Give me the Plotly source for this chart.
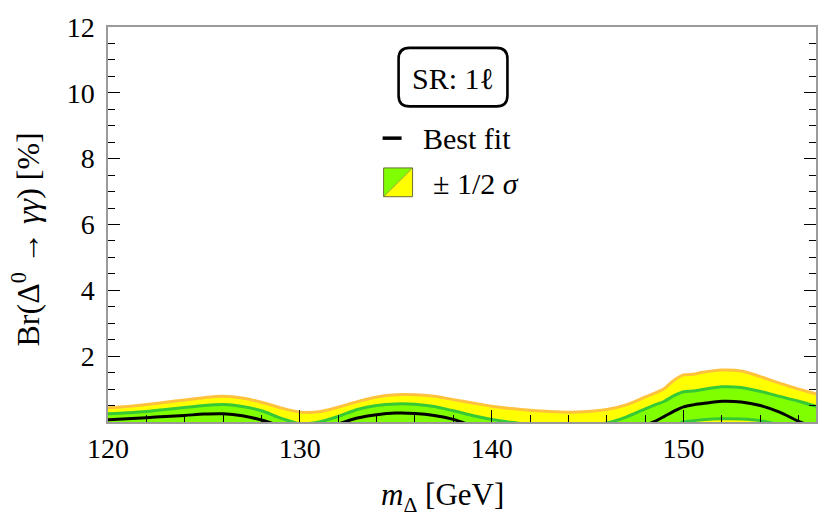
import plotly.graph_objects as go

# ---------------- data ----------------
m_delta = [120, 121, 122, 123, 124, 125, 126, 127, 128, 129, 130, 131, 132, 133, 134,
           135, 136, 137, 138, 139, 140, 141, 142, 143, 144, 145, 146, 147, 148, 148.5,
           149, 149.5, 150, 150.5, 151, 152, 153, 154, 155, 156, 157]

best_fit = [0.07, 0.10, 0.13, 0.17, 0.20, 0.24, 0.25, 0.19, 0.06, -0.12, -0.25, -0.22, -0.06, 0.12, 0.22,
            0.27, 0.26, 0.20, 0.08, -0.12, -0.30, -0.45, -0.55, -0.60, -0.60, -0.50, -0.35, -0.22, -0.10, 0.02,
            0.17, 0.33, 0.46, 0.52, 0.56, 0.63, 0.61, 0.50, 0.30, 0.02, -0.20]

upper_1s = [0.25, 0.28, 0.32, 0.38, 0.44, 0.50, 0.53, 0.47, 0.34, 0.12, -0.05, 0.00, 0.17, 0.38, 0.50,
            0.55, 0.54, 0.47, 0.34, 0.20, 0.08, -0.01, -0.08, -0.12, -0.12, -0.08, -0.03, 0.15, 0.40, 0.52,
            0.63, 0.80, 0.92, 0.94, 0.99, 1.07, 1.05, 0.93, 0.78, 0.63, 0.46]

lower_1s = [-0.12, -0.10, -0.10, -0.10, -0.10, -0.10, -0.10, -0.12, -0.22, -0.40, -0.50, -0.45, -0.30, -0.16, -0.10,
            -0.10, -0.10, -0.12, -0.20, -0.40, -0.60, -0.80, -0.90, -1.00, -1.00, -0.90, -0.70, -0.60, -0.55, -0.45,
            -0.30, -0.12, 0.00, 0.04, 0.07, 0.10, 0.09, 0.04, -0.10, -0.40, -0.70]

upper_2s = [0.43, 0.47, 0.53, 0.60, 0.67, 0.74, 0.78, 0.73, 0.60, 0.43, 0.30, 0.31, 0.45, 0.62, 0.76,
            0.83, 0.83, 0.78, 0.68, 0.58, 0.48, 0.41, 0.36, 0.32, 0.30, 0.32, 0.38, 0.52, 0.76, 0.88,
            1.02, 1.27, 1.43, 1.45, 1.51, 1.58, 1.55, 1.38, 1.18, 1.00, 0.84]

lower_2s = [-0.40, -0.40, -0.40, -0.40, -0.40, -0.40, -0.40, -0.45, -0.55, -0.70, -0.80, -0.75, -0.60, -0.45, -0.40,
            -0.40, -0.40, -0.45, -0.55, -0.70, -0.90, -1.10, -1.20, -1.30, -1.30, -1.20, -1.05, -0.95, -0.90, -0.80,
            -0.70, -0.50, -0.40, -0.35, -0.35, -0.35, -0.35, -0.40, -0.55, -0.80, -1.10]

x_ticks = [120, 130, 140, 150]
y_ticks = [2, 4, 6, 8, 10, 12]

# ---------------- styling ----------------
FONT = "Liberation Serif"
ORANGE = "#FFC23C"
YELLOW = "#FFFF00"
GREEN_LINE = "#36C936"
GREEN_FILL = "#80FF00"

W, H = 830, 532
ML, MR, MT, MB = 108, 13, 24, 110
PW, PH = W - ML - MR, H - MT - MB


def px(x):
    return (x - ML) / PW


def py(y):
    return (H - MB - y) / PH


fig = go.Figure()
sp = dict(shape="spline", smoothing=0.8)

# 2 sigma band
fig.add_trace(go.Scatter(x=m_delta, y=lower_2s, mode="lines", line=dict(width=0, **sp),
                         showlegend=False, hoverinfo="skip"))
fig.add_trace(go.Scatter(x=m_delta, y=upper_2s, mode="lines", line=dict(width=0, **sp),
                         fill="tonexty", fillcolor=YELLOW, showlegend=False, hoverinfo="skip"))
# 1 sigma band
fig.add_trace(go.Scatter(x=m_delta, y=lower_1s, mode="lines", line=dict(width=0, **sp),
                         showlegend=False, hoverinfo="skip"))
fig.add_trace(go.Scatter(x=m_delta, y=upper_1s, mode="lines", line=dict(width=0, **sp),
                         fill="tonexty", fillcolor=GREEN_FILL, showlegend=False, hoverinfo="skip"))
# boundary lines
for ys, col in [(upper_2s, ORANGE), (lower_2s, ORANGE), (upper_1s, GREEN_LINE), (lower_1s, GREEN_LINE)]:
    fig.add_trace(go.Scatter(x=m_delta, y=ys, mode="lines", line=dict(color=col, width=3, **sp),
                             showlegend=False, hoverinfo="skip"))
# best fit
fig.add_trace(go.Scatter(x=m_delta, y=best_fit, mode="lines", line=dict(color="black", width=3, **sp),
                         showlegend=False, hoverinfo="skip"))

fig.update_xaxes(range=[120, 156.9], tickvals=x_ticks, ticktext=[str(v) for v in x_ticks],
                 ticks="inside", ticklen=12, tickwidth=1.3, tickcolor="black",
                 minor=dict(tickmode="linear", tick0=120, dtick=2, ticks="inside", ticklen=7,
                            tickwidth=1.3, tickcolor="black"),
                 showline=True, linecolor="#9a9a9a", linewidth=1.5, mirror=True,
                 showgrid=False, zeroline=False, layer="above traces",
                 tickfont=dict(family=FONT, size=28, color="black"), ticklabelstandoff=1)
fig.update_yaxes(range=[0, 12], tickvals=y_ticks, ticktext=[str(v) for v in y_ticks],
                 ticks="inside", ticklen=12, tickwidth=1.3, tickcolor="black",
                 minor=dict(tickmode="linear", tick0=0, dtick=0.5, ticks="inside", ticklen=7,
                            tickwidth=1.3, tickcolor="black"),
                 showline=True, linecolor="#9a9a9a", linewidth=1.5, mirror="ticks",
                 showgrid=False, zeroline=False, layer="above traces",
                 tickfont=dict(family=FONT, size=28, color="black"), ticklabelstandoff=6)

# SR box with rounded corners
bx0, bx1, by0, by1, r = 399, 508, 45, 104, 11
path = (f"M {px(bx0 + r)},{py(by0)} L {px(bx1 - r)},{py(by0)} Q {px(bx1)},{py(by0)} {px(bx1)},{py(by0 + r)} "
        f"L {px(bx1)},{py(by1 - r)} Q {px(bx1)},{py(by1)} {px(bx1 - r)},{py(by1)} "
        f"L {px(bx0 + r)},{py(by1)} Q {px(bx0)},{py(by1)} {px(bx0)},{py(by1 - r)} "
        f"L {px(bx0)},{py(by0 + r)} Q {px(bx0)},{py(by0)} {px(bx0 + r)},{py(by0)} Z")
shapes = [dict(type="path", xref="paper", yref="paper", path=path,
               line=dict(color="black", width=2.6), fillcolor="white")]
# best-fit legend dash
shapes.append(dict(type="line", xref="paper", yref="paper", x0=px(383), x1=px(402), y0=py(136), y1=py(136),
                   line=dict(color="black", width=3.5)))
# band legend square
sx0, sx1, sy0, sy1 = 384, 413, 166, 195
shapes.append(dict(type="path", xref="paper", yref="paper",
                   path=f"M {px(sx0)},{py(sy0)} L {px(sx1)},{py(sy0)} L {px(sx0)},{py(sy1)} Z",
                   fillcolor=GREEN_FILL, line=dict(width=0)))
shapes.append(dict(type="path", xref="paper", yref="paper",
                   path=f"M {px(sx1)},{py(sy0)} L {px(sx1)},{py(sy1)} L {px(sx0)},{py(sy1)} Z",
                   fillcolor=YELLOW, line=dict(width=0)))
shapes.append(dict(type="line", xref="paper", yref="paper", x0=px(sx0), x1=px(sx1), y0=py(sy1), y1=py(sy0),
                   line=dict(color="#8a8a30", width=0.8)))
shapes.append(dict(type="rect", xref="paper", yref="paper", x0=px(sx0), x1=px(sx1), y0=py(sy1), y1=py(sy0),
                   line=dict(color="#6e6e30", width=1)))

annotations = [
    dict(text="SR: 1ℓ", x=px(453.5), y=py(76), xref="paper", yref="paper", showarrow=False,
         xanchor="center", yanchor="middle", font=dict(family=FONT, size=30, color="black")),
    dict(text="Best fit", x=px(421), y=py(136), xref="paper", yref="paper", showarrow=False,
         xanchor="left", yanchor="middle", font=dict(family=FONT, size=30, color="black")),
    dict(text="± 1/2 <i>σ</i>", x=px(431), y=py(182), xref="paper", yref="paper", showarrow=False,
         xanchor="left", yanchor="middle", font=dict(family=FONT, size=30, color="black")),
    dict(text="<i>m</i><sub>Δ</sub> [GeV]", x=px(443), y=py(498), xref="paper", yref="paper",
         showarrow=False, xanchor="center", yanchor="middle", font=dict(family=FONT, size=31, color="black")),
    dict(text="Br(Δ<sup>0</sup> → <i>γγ</i>) [%]", x=px(26), y=py(238), xref="paper", yref="paper",
         showarrow=False, xanchor="center", yanchor="middle", textangle=-90,
         font=dict(family=FONT, size=32, color="black")),
]

fig.update_layout(width=W, height=H, margin=dict(l=ML, r=MR, t=MT, b=MB),
                  plot_bgcolor="white", paper_bgcolor="white", showlegend=False,
                  shapes=shapes, annotations=annotations)

fig.write_html("out.html", config={"displayModeBar": False},
               post_script="document.body.style.margin='0';document.body.style.padding='0';")
